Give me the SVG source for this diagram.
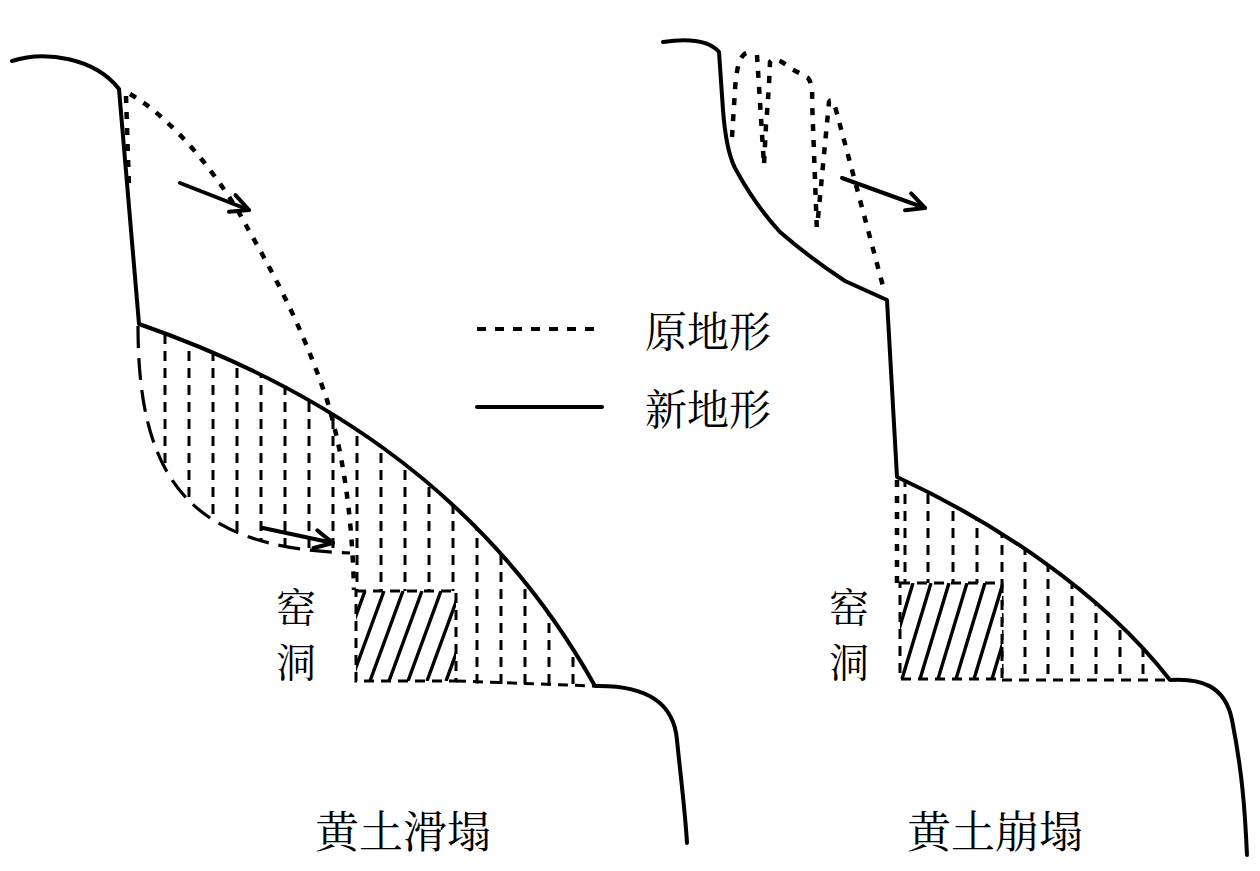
<svg xmlns="http://www.w3.org/2000/svg" width="1260" height="871" viewBox="0 0 1260 871">
<style>
.solid{fill:none;stroke:#000;stroke-width:4;stroke-linecap:round;stroke-linejoin:round}
.orig{fill:none;stroke:#000;stroke-width:4.5;stroke-dasharray:7 9;stroke-linecap:butt}
.slip{fill:none;stroke:#000;stroke-width:3.2;stroke-dasharray:22 10}
.vdash{fill:none;stroke:#000;stroke-width:3;stroke-dasharray:10 7}
.hatch{fill:none;stroke:#000;stroke-width:3.4}
.arrow{fill:none;stroke:#000;stroke-width:4;stroke-linecap:round;marker-end:url(#head)}
.t{font-family:'Noto Serif CJK SC','Noto Sans CJK SC',serif;fill:#000}
</style>
<defs>
<marker id="head" markerUnits="userSpaceOnUse" viewBox="-22 -12 26 24" refX="0" refY="0" markerWidth="26" markerHeight="24" orient="auto">
<path d="M-18,-9 L0,0 L-18,9" fill="none" stroke="#000" stroke-width="4" stroke-linecap="round" stroke-linejoin="round"/>
</marker>
<clipPath id="clipL"><path d="M138,325 C300,380 480,480 595,686 L457,683 L457,591 L356,591 L351,553 C190,548 138,480 138,326 Z"/></clipPath>
<clipPath id="boxL"><rect x="356" y="591" width="100" height="90"/></clipPath>
<clipPath id="clipR"><path d="M898,476 C990,520 1100,590 1170,680 L1002,680 L1002,583 L900,583 Z"/></clipPath>
<clipPath id="boxR"><rect x="900" y="583" width="102" height="96"/></clipPath>
</defs>
<rect width="1260" height="871" fill="#fff"/>

<g id="slide-left">
  <g clip-path="url(#clipL)">
    <path class="vdash" d="M165,300V700M189,300V700M213,300V700M237,300V700M261,300V700M285,300V700M309,300V700M333,300V700M357,300V700M381,300V700M405,300V700M429,300V700M453,300V700M477,300V700M501,300V700M525,300V700M549,300V700M573,300V700"/>
  </g>
  <rect class="vdash" x="356" y="591" width="100" height="90"/>
  <g clip-path="url(#boxL)">
    <path class="hatch" d="M332,681L365,591M351,681L384,591M370,681L403,591M389,681L422,591M408,681L441,591M427,681L460,591M446,681L479,591"/>
  </g>
  <path class="vdash" d="M456,681L595,686"/>
  <path class="slip" d="M138,326C138,480 190,548 350,553"/>
  <path class="orig" d="M126,96L129,187"/>
  <path class="orig" d="M130,94C175,120 222,180 247,227C270,268 300,320 327,400C342,450 352,510 354,590"/>
  <path class="solid" d="M12,61C45,50 95,58 119,89L139,324C300,380 480,480 595,686C650,685 674,705 677,740C681,780 685,810 687,843"/>
  <path class="arrow" d="M180,183L249,210"/>
  <path class="arrow" d="M263,528L333,543"/>
  <text class="t" x="276" y="622" font-size="40">窑</text>
  <text class="t" x="276" y="677" font-size="40">洞</text>
  <text class="t" x="315" y="848" font-size="44">黄土滑塌</text>
</g>

<g id="collapse-right">
  <g clip-path="url(#clipR)">
    <path class="vdash" d="M905,460V700M928,460V700M953,460V700M977,460V700M1002,460V700M1025,460V700M1048,460V700M1072,460V700M1096,460V700M1120,460V700M1143,460V700"/>
  </g>
  <path class="orig" d="M897,480V583"/>
  <rect class="vdash" x="900" y="583" width="102" height="96"/>
  <g clip-path="url(#boxR)">
    <path class="hatch" d="M884,679L913,583M902,679L931,583M920,679L949,583M938,679L967,583M956,679L985,583M974,679L1003,583M992,679L1021,583"/>
  </g>
  <path class="vdash" d="M1002,680L1170,680"/>
  <path class="orig" d="M732,137L735,90Q737,55 747,53"/>
  <path class="orig" d="M757,55L764,165L766,125Q769,90 770,62Q775,55 790,68L808,78Q813,84 812,100L817,233"/>
  <path class="orig" d="M818,218L829,102Q832,96 836,110L884,290"/>
  <path class="solid" d="M663,42Q705,36 719,52L723,110Q726,150 735,168Q755,205 780,232Q810,258 845,281L887,300L897,477C990,520 1100,590 1170,680C1200,678 1225,685 1232,720C1242,770 1245,810 1247,855"/>
  <path class="arrow" d="M842,178L925,208"/>
  <text class="t" x="829" y="622" font-size="40">窑</text>
  <text class="t" x="829" y="677" font-size="40">洞</text>
  <text class="t" x="907" y="848" font-size="44">黄土崩塌</text>
</g>

<g id="legend">
  <path d="M477,329L597,329" fill="none" stroke="#000" stroke-width="4" stroke-dasharray="9 9"/>
  <path d="M477,407L602,407" class="solid"/>
  <text class="t" x="645" y="347" font-size="42">原地形</text>
  <text class="t" x="645" y="425" font-size="42">新地形</text>
</g>
</svg>
